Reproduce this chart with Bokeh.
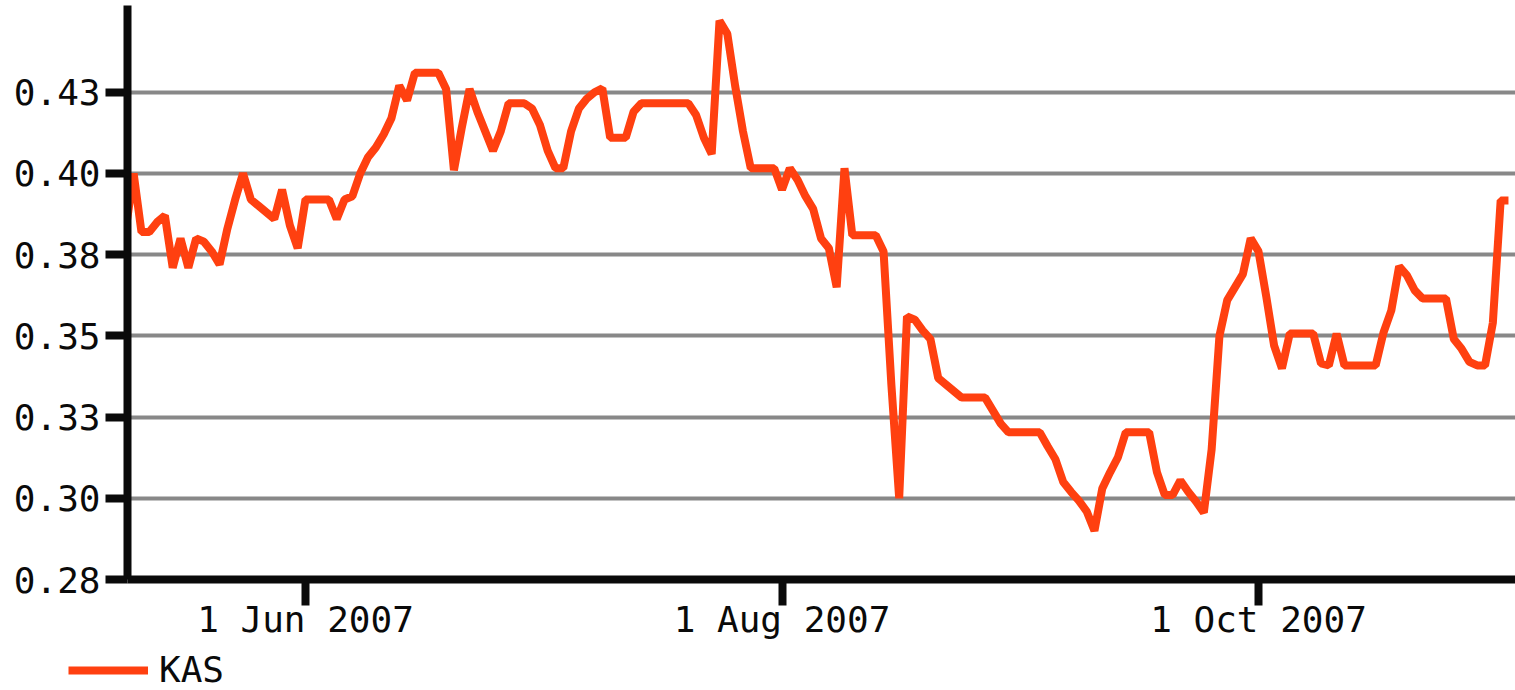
from datetime import datetime
import pandas as pd
from bokeh.plotting import figure
from bokeh.layouts import column
from bokeh.models import (ColumnDataSource, FixedTicker, CustomJSTickFormatter,
                          Legend, LegendItem, Range1d)
from bokeh.embed import file_html
from bokeh.resources import INLINE

# ---- data ----
dates = [
    "2007-05-09", "2007-05-10", "2007-05-11", "2007-05-12", "2007-05-13", "2007-05-14",
    "2007-05-15", "2007-05-16", "2007-05-17", "2007-05-18", "2007-05-19", "2007-05-20",
    "2007-05-21", "2007-05-22", "2007-05-23", "2007-05-24", "2007-05-25", "2007-05-26",
    "2007-05-27", "2007-05-28", "2007-05-29", "2007-05-30", "2007-05-31",
    "2007-06-01", "2007-06-02", "2007-06-03", "2007-06-04", "2007-06-05", "2007-06-06",
    "2007-06-07", "2007-06-08", "2007-06-09", "2007-06-10", "2007-06-11", "2007-06-12",
    "2007-06-13", "2007-06-14", "2007-06-15", "2007-06-16", "2007-06-17", "2007-06-18",
    "2007-06-19", "2007-06-20", "2007-06-21", "2007-06-22", "2007-06-23", "2007-06-24",
    "2007-06-25", "2007-06-26", "2007-06-27", "2007-06-28", "2007-06-29", "2007-06-30",
    "2007-07-01", "2007-07-02", "2007-07-03", "2007-07-04", "2007-07-05", "2007-07-06",
    "2007-07-07", "2007-07-08", "2007-07-09", "2007-07-10", "2007-07-11", "2007-07-12",
    "2007-07-13", "2007-07-14", "2007-07-15", "2007-07-16", "2007-07-17", "2007-07-18",
    "2007-07-19", "2007-07-20", "2007-07-21", "2007-07-22", "2007-07-23", "2007-07-24",
    "2007-07-25", "2007-07-26", "2007-07-27", "2007-07-28", "2007-07-29", "2007-07-30",
    "2007-07-31",
    "2007-08-01", "2007-08-02", "2007-08-03", "2007-08-04", "2007-08-05", "2007-08-06",
    "2007-08-07", "2007-08-08", "2007-08-09", "2007-08-10", "2007-08-11", "2007-08-12",
    "2007-08-13", "2007-08-14", "2007-08-15", "2007-08-16", "2007-08-17", "2007-08-18",
    "2007-08-19", "2007-08-20", "2007-08-21", "2007-08-22", "2007-08-23", "2007-08-24",
    "2007-08-25", "2007-08-26", "2007-08-27", "2007-08-28", "2007-08-29", "2007-08-30",
    "2007-08-31",
    "2007-09-01", "2007-09-02", "2007-09-03", "2007-09-04", "2007-09-05", "2007-09-06",
    "2007-09-07", "2007-09-08", "2007-09-09", "2007-09-10", "2007-09-11", "2007-09-12",
    "2007-09-13", "2007-09-14", "2007-09-15", "2007-09-16", "2007-09-17", "2007-09-18",
    "2007-09-19", "2007-09-20", "2007-09-21", "2007-09-22", "2007-09-23", "2007-09-24",
    "2007-09-25", "2007-09-26", "2007-09-27", "2007-09-28", "2007-09-29", "2007-09-30",
    "2007-10-01", "2007-10-02", "2007-10-03", "2007-10-04", "2007-10-05", "2007-10-06",
    "2007-10-07", "2007-10-08", "2007-10-09", "2007-10-10", "2007-10-11", "2007-10-12",
    "2007-10-13", "2007-10-14", "2007-10-15", "2007-10-16", "2007-10-17", "2007-10-18",
    "2007-10-19", "2007-10-20", "2007-10-21", "2007-10-22", "2007-10-23", "2007-10-24",
    "2007-10-25", "2007-10-26", "2007-10-27", "2007-10-28", "2007-10-29", "2007-10-30",
    "2007-10-31", "2007-11-01", "2007-11-02",
]

kas = [
    # May 9 - May 31
    0.383, 0.400, 0.382, 0.382, 0.385, 0.387,
    0.371, 0.380, 0.371, 0.380, 0.379, 0.376,
    0.372, 0.383, 0.392, 0.400, 0.392, 0.390,
    0.388, 0.386, 0.395, 0.384, 0.377,
    # June
    0.392, 0.392, 0.392, 0.392, 0.386, 0.392,
    0.393, 0.400, 0.405, 0.408, 0.412, 0.417,
    0.427, 0.4225, 0.431, 0.431, 0.431, 0.431,
    0.426, 0.401, 0.414, 0.426, 0.419, 0.413,
    0.407, 0.413, 0.4216, 0.4216, 0.4216, 0.420,
    # July
    0.415, 0.407, 0.4016, 0.4016, 0.413, 0.420,
    0.423, 0.425, 0.4262, 0.411, 0.411, 0.411,
    0.419, 0.4216, 0.4216, 0.4216, 0.4216, 0.4216,
    0.4216, 0.4216, 0.418, 0.411, 0.406, 0.447,
    0.443, 0.427, 0.413, 0.4016, 0.4016, 0.4016,
    0.4016,
    # August
    0.395, 0.4016, 0.398, 0.393, 0.389, 0.380,
    0.377, 0.365, 0.4016, 0.381, 0.381, 0.381,
    0.381, 0.376, 0.335, 0.300, 0.356, 0.355,
    0.3517, 0.349, 0.337, 0.335, 0.333, 0.331,
    0.331, 0.331, 0.331, 0.327, 0.323, 0.3203,
    0.3203,
    # September
    0.3203, 0.3203, 0.3203, 0.316, 0.312, 0.305,
    0.302, 0.2993, 0.296, 0.290, 0.303, 0.308,
    0.3126, 0.3203, 0.3203, 0.3203, 0.3203, 0.308,
    0.301, 0.301, 0.3055, 0.302, 0.299, 0.2956,
    0.315, 0.350, 0.361, 0.365, 0.369, 0.380,
    # October
    0.376, 0.362, 0.347, 0.340, 0.3507, 0.3507,
    0.3507, 0.3507, 0.3415, 0.3409, 0.3507, 0.3409,
    0.3409, 0.3409, 0.3409, 0.3409, 0.351, 0.3578,
    0.3714, 0.3686, 0.364, 0.3615, 0.3615, 0.3615,
    0.3615, 0.349, 0.346, 0.342, 0.3409, 0.3409,
    0.354, 0.3917, 0.3917,
]

y_ticks = [0.275, 0.300, 0.325, 0.350, 0.375, 0.400, 0.425]
x_tick_dates = ["2007-06-01", "2007-08-01", "2007-10-01"]
series_name = "KAS"

# ---- chart ----
src = ColumnDataSource(dict(date=pd.to_datetime(dates), value=kas))

FONT = "DejaVu Sans Mono"
INK = "#0a0a0a"
LINE_COLOR = "#ff4010"

p = figure(
    width=1515, height=647,
    x_axis_type="datetime",
    x_range=Range1d(datetime(2007, 5, 9, 5, 7), datetime(2007, 11, 2, 21, 36)),
    y_range=Range1d(0.275, 0.4517),
    output_backend="svg", toolbar_location=None,
    min_border_left=127, min_border_right=0, min_border_top=5, min_border_bottom=68,
)
p.frame_align = False
p.outline_line_color = None
p.background_fill_color = "white"
p.border_fill_color = "white"

r = p.line(x="date", y="value", source=src, line_color=LINE_COLOR, line_width=8)

p.xgrid.visible = False
p.ygrid.grid_line_color = "#888888"
p.ygrid.grid_line_width = 4

p.yaxis.ticker = FixedTicker(ticks=y_ticks)
p.yaxis.formatter = CustomJSTickFormatter(code="return (tick + 1e-9).toFixed(2);")
p.yaxis.major_tick_out = 22
p.yaxis.major_label_standoff = 5

x_tick_ms = [pd.Timestamp(d).value // 10**6 for d in x_tick_dates]
p.xaxis.ticker = FixedTicker(ticks=x_tick_ms)
p.xaxis.formatter = CustomJSTickFormatter(code="""
const m = ["Jan","Feb","Mar","Apr","May","Jun","Jul","Aug","Sep","Oct","Nov","Dec"];
const d = new Date(tick);
return d.getUTCDate() + " " + m[d.getUTCMonth()] + " " + d.getUTCFullYear();
""")
p.xaxis.major_tick_out = 26
p.xaxis.major_label_standoff = -7

for ax in (p.xaxis, p.yaxis):
    ax.axis_line_color = INK
    ax.axis_line_width = 8
    ax.major_tick_line_color = INK
    ax.major_tick_line_width = 8
    ax.major_tick_in = 0
    ax.minor_tick_line_color = None
    ax.major_label_text_font = FONT
    ax.major_label_text_font_size = "36px"
    ax.major_label_text_color = INK

# ---- legend strip below the chart (same series, drawn out of view; only its key shows) ----
pl = figure(
    width=1515, height=43,
    x_range=p.x_range, y_range=Range1d(10, 11),
    x_axis_location=None, y_axis_location=None,
    output_backend="svg", toolbar_location=None,
    min_border_left=0, min_border_right=0, min_border_top=0, min_border_bottom=0,
)
pl.frame_align = False
pl.outline_line_color = None
pl.grid.visible = False
pl.background_fill_color = "white"
pl.border_fill_color = "white"
r_key = pl.line(x="date", y="value", source=src, line_color=LINE_COLOR, line_width=8)

legend = Legend(
    items=[LegendItem(label=series_name, renderers=[r_key])],
    location=(68, 0),
    orientation="horizontal",
    padding=0, margin=0, spacing=0,
    glyph_width=80, glyph_height=30, label_standoff=11,
    label_text_font=FONT, label_text_font_size="36px", label_text_color=INK,
    border_line_color=None, background_fill_alpha=0,
)
pl.add_layout(legend, "center")

layout = column(p, pl, spacing=0)
open("out.html", "w").write(file_html(layout, INLINE))
